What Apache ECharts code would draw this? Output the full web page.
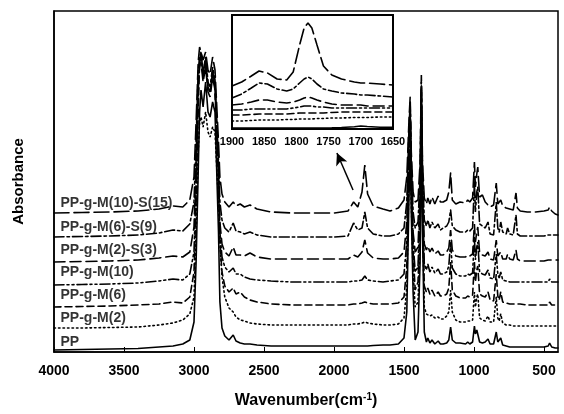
<!DOCTYPE html>
<html><head><meta charset="utf-8">
<script src="https://cdn.jsdelivr.net/npm/echarts@6/dist/echarts.min.js"></script>
<style>html,body{margin:0;padding:0;background:#fff}#c{width:564px;height:414px}</style>
</head><body><div id="c"></div>
<script>
// Wavenumbers (cm-1) for main spectra
const W = [4000,3800,3600,3400,3250,3150,3080,3030,
3000,2985,2970,2960,2950,2935,2917,2900,2885,2867,2850,2838,2825,2815,
2800,2780,2750,2720,2700,2670,2640,2600,2550,2450,2300,2150,2000,
1900,1860,1830,1800,1780,1760,1720,1650,1600,1540,
1500,1480,1465,1456,1448,1435,1420,1400,1385,1376,1368,1355,
1340,1330,1315,1300,1280,1256,1240,1220,1195,1180,1167,1155,1130,1100,
1060,1045,1030,1010,997,990,980,973,960,940,920,900,885,860,
841,830,820,809,795,770,760,745,720,700,690,670,620,560,500,470,460,445,420,400];

const PP = [2,2.5,3,3.5,5,6,8,12,
30,90,180,240,262,245,270,240,235,250,240,240,120,50,
24,16,12,17,11,9,8,8,7,6,6,6,6,
6,6,6,6,6,6,6.5,7,7,8,
14,40,150,200,140,60,12,20,90,230,120,20,
10,14,9,12,8,11,8,8,9,12,25,12,9,9,
8,10,8,10,26,18,22,24,10,9,10,13,8,8,
20,10,9,14,7,6,6,5,5,5,5,5,5,5,5,6,9,5,4,4];

const M2 = [24,24,24.5,25,27,29,32,38,
55,120,200,230,235,225,240,220,215,225,220,220,150,110,
75,55,44,40,35,32,31,29,28,27,27,27,27,
27,28,28,29,30,29,28,27,27,28,
34,65,170,220,150,80,45,50,110,245,140,45,
38,40,36,37,34,35,33,33,36,40,62,40,32,30,
30,31,31,32,60,45,55,58,34,32,31,36,30,30,
55,34,31,38,29,27,27,27,26,26,26,26,26,26,26,26,28,26,26,26];

const M6 = [45,45.5,46,47,48,50,49,55,
80,150,240,290,300,275,295,265,260,280,265,265,170,110,
80,66,60,64,58,60,55,52,50,48,47,47,47,
47,48,48,49,50,49,48,48,48,49,
55,85,190,235,170,100,62,70,130,260,150,66,
60,64,58,62,56,60,56,56,58,64,90,62,56,54,
54,56,55,57,90,70,82,86,58,56,55,60,52,51,
78,56,52,60,50,49,49,48,48,48,48,48,47,47,47,47,50,47,47,47];

const M10 = [67,67.5,68,69,71,73,72,78,
100,170,260,290,295,275,290,265,260,280,265,265,180,120,
95,85,80,84,78,78,75,73,72,71,70,70,70,
70,71,71,72,76,72,71,70,71,72,
78,110,200,245,180,110,80,85,150,265,160,88,
82,88,80,85,79,83,78,78,80,86,110,84,78,76,
76,78,77,79,115,92,105,110,80,78,77,82,74,73,
98,78,74,80,72,71,71,70,70,70,70,70,70,70,70,70,73,70,70,70];

const M2S3 = [90,90.5,91,92,94,96,95,100,
125,190,270,285,290,270,285,260,255,275,262,260,180,130,
108,100,96,105,97,97,96,99,95,93,93,93,93,
93,97,95,100,112,99,94,93,93,94,
100,130,210,240,180,120,100,105,160,262,170,108,
102,106,100,104,98,101,97,97,100,104,122,102,96,95,
95,97,96,98,128,110,120,125,99,97,96,100,93,92,
112,96,94,100,93,93,98,93,92,102,93,91,91,91,91,92,94,92,92,92];

const M6S9 = [115,115.5,116,117,119,122,121,128,
150,210,280,295,300,280,295,270,265,285,272,270,190,150,
132,124,120,129,121,120,118,120,117,115,115,115,115,
116,129,122,124,140,124,118,116,116,118,
124,150,220,250,190,140,124,130,175,270,180,132,
126,132,124,130,124,128,122,124,126,130,142,126,122,120,
120,122,121,124,170,140,160,165,128,126,124,130,118,117,
150,124,120,130,120,118,124,118,117,137,118,116,116,116,116,117,119,117,117,117];

const M10S15 = [139,139.5,140,141,143,146,145,152,
175,230,290,305,307,292,300,282,278,295,282,280,210,175,
158,150,145,150,146,148,145,147,143,140,139,139,139,
141,150,145,160,187,158,146,143,141,144,
152,175,230,255,200,160,150,152,190,277,190,154,
148,154,148,155,148,156,150,150,152,160,179,152,148,150,
149,152,150,154,190,165,178,185,155,157,150,147,145,147,
169,148,146,152,146,144,145,143,142,159,144,141,140,140,141,142,145,141,138,137];

// Inset (carbonyl region)
const WI = [1900,1885,1870,1858,1845,1830,1815,1805,1795,1788,1782,1776,1768,1758,1745,1730,1710,1700,1690,1670,1650];
const I_M10S15 = [43,47,53,58,56,50,49,57,84,101,106,101,84,63,54,50,47,46,46,45,44];
const I_M6S9 = [31,35,41,46,45,40,38,40,46,50,52,50,45,40,38,36,35,34,34,33,32];
const I_M2S3 = [24,25,27,29,29,27,26,27,29,31,32,31,29,27,25,24,24,24,23,23,23];
const I_M10 = [19,19,20,20,20,20,20,21,22,23,23,23,22,22,21,21,21,21,21,21,21];
const I_M6 = [14,14,14.5,15,15,15,15,15.5,16,16,16,16,16,16,16.5,17,17,17,17,17,17];
const I_M2 = [8,8,8.5,9,9,9,9.5,9.5,10,10,10,10,10.5,10.5,11,11,11.5,11.5,11.5,12,12];
const I_PP = [1,1,1,1,1,1,1,1,1,1,1,1,1,1,1.2,1.5,2.3,3,2.5,1.8,1.8];

const xTicks = [4000,3500,3000,2500,2000,1500,1000,500];
const insetTicks = [1900,1850,1800,1750,1700,1650];
const names = ['PP','PP-g-M(2)','PP-g-M(6)','PP-g-M(10)','PP-g-M(2)-S(3)','PP-g-M(6)-S(9)','PP-g-M(10)-S(15)'];
const labelY = [10,34,57,80,102,125,149];
const labelX = 3957;

const mainData = [PP,M2,M6,M10,M2S3,M6S9,M10S15];
const insetData = [I_PP,I_M2,I_M6,I_M10,I_M2S3,I_M6S9,I_M10S15];
const dashes = ['solid',[1.5,3],[7,4],[10,3,2,3,2,3],[11,5],[10,3,2.5,3],[15,5]];

const FONT = '"Liberation Sans", Arial, sans-serif';
const chart = echarts.init(document.getElementById('c'), null, {renderer:'canvas'});

const series = [];
mainData.forEach((arr,k)=>{
  series.push({type:'line', xAxisIndex:0, yAxisIndex:0, data:W.map((w,i)=>[w,arr[i]]),
    symbol:'none', lineStyle:{color:'#000', width:1.6, type:dashes[k], cap:'round'}, silent:true, z:3});
});
insetData.forEach((arr,k)=>{
  series.push({type:'line', xAxisIndex:1, yAxisIndex:1, data:WI.map((w,i)=>[w,arr[i]]),
    symbol:'none', lineStyle:{color:'#000', width:1.6, type:dashes[k], cap:'round'}, silent:true, z:5});
});
series.push({type:'scatter', xAxisIndex:0, yAxisIndex:0, symbolSize:1,
  itemStyle:{color:'rgba(0,0,0,0)'},
  data:names.map((n,i)=>({value:[labelX,labelY[i]], name:n})),
  label:{show:true, position:'right', distance:0, formatter:p=>p.name, color:'#000',
    fontFamily:FONT, fontWeight:'bold', fontSize:14}, silent:true, z:6,
  markLine:{silent:true, symbol:['none','arrow'], symbolSize:[9,12],
    lineStyle:{color:'#000', width:1.5, type:'solid'}, label:{show:false},
    data:[[{coord:[1864,162]},{coord:[1979,199]}]]}
});

const plain = v => String(v);

chart.setOption({
  animation:false,
  backgroundColor:'#fff',
  grid:[
    {left:54, top:11, width:504, height:341, show:true, borderColor:'#000', borderWidth:1.5, backgroundColor:'transparent'},
    {left:232, top:15, width:161, height:114, show:true, borderColor:'#000', borderWidth:2, backgroundColor:'#fff', z:4}
  ],
  xAxis:[
    {type:'value', gridIndex:0, min:400, max:4000, inverse:true,
     axisLine:{show:true, lineStyle:{color:'#000', width:1.5}},
     axisTick:{show:true, inside:true, length:5, customValues:xTicks, lineStyle:{color:'#000', width:1}},
     axisLabel:{show:true, customValues:xTicks, formatter:plain, margin:12, color:'#000', fontFamily:FONT, fontWeight:'bold', fontSize:14},
     splitLine:{show:false},
     name:'{a|Wavenumber(cm}{s|-1}{a|)}', nameLocation:'middle', nameGap:40,
     nameTextStyle:{rich:{a:{fontFamily:FONT, fontWeight:'bold', fontSize:16, color:'#000'},
                          s:{fontFamily:FONT, fontWeight:'bold', fontSize:10, color:'#000', verticalAlign:'top', padding:[0,0,8,0]}}}},
    {type:'value', gridIndex:1, min:1650, max:1900, inverse:true,
     axisLine:{show:false}, axisTick:{show:false},
     axisLabel:{show:true, customValues:insetTicks, formatter:plain, margin:7, color:'#000', fontFamily:FONT, fontWeight:'bold', fontSize:11},
     splitLine:{show:false}}
  ],
  yAxis:[
    {type:'value', gridIndex:0, min:0, max:341,
     axisLine:{show:true, lineStyle:{color:'#000', width:1.5}}, axisTick:{show:false}, axisLabel:{show:false}, splitLine:{show:false},
     name:'Absorbance', nameLocation:'middle', nameGap:28, nameRotate:90,
     nameTextStyle:{fontFamily:FONT, fontWeight:'bold', fontSize:15, color:'#000'}},
    {type:'value', gridIndex:1, min:0, max:114,
     axisLine:{show:false}, axisTick:{show:false}, axisLabel:{show:false}, splitLine:{show:false}}
  ],
  series:series
});
</script></body></html>
